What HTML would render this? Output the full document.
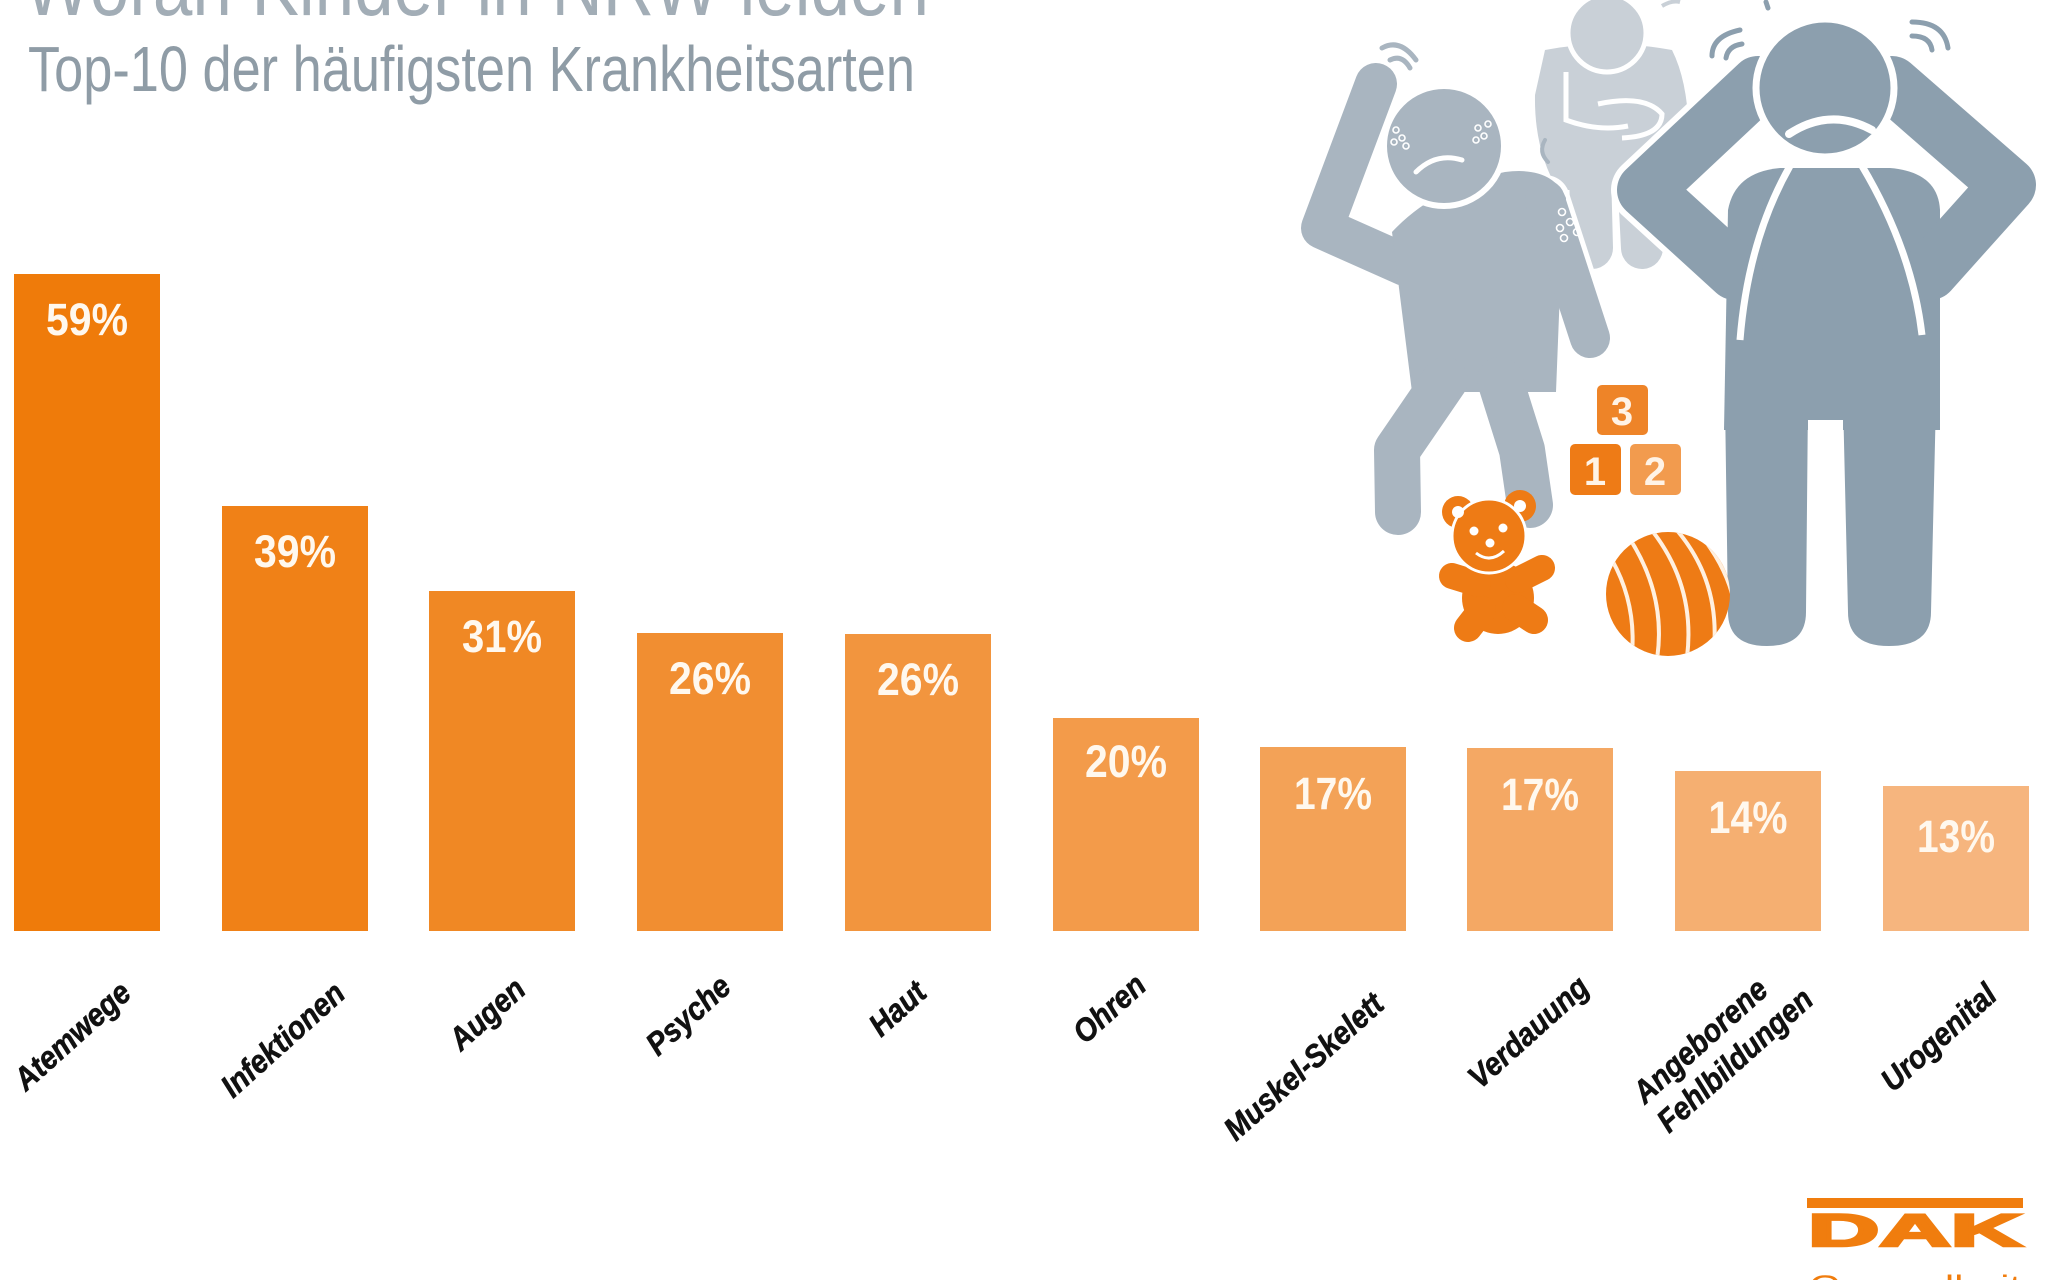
<!DOCTYPE html>
<html>
<head>
<meta charset="utf-8">
<style>
  html,body{margin:0;padding:0;background:#ffffff;}
  body{width:2048px;height:1280px;overflow:hidden;}
  svg{display:block;}
  .pct{font-family:"Liberation Sans Narrow","Liberation Sans",sans-serif;font-weight:bold;font-size:45px;fill:#FFF8EE;}
  .lab{font-family:"Liberation Sans",sans-serif;font-weight:bold;font-style:italic;font-size:32px;fill:#111111;stroke:#111111;stroke-width:0.6;}
</style>
</head>
<body>
<svg width="2048" height="1280" viewBox="0 0 2048 1280" xmlns="http://www.w3.org/2000/svg">
  <rect x="0" y="0" width="2048" height="1280" fill="#ffffff"/>

  <!-- Title (cut at top) -->
  <text x="24" y="15" font-family="Liberation Sans, sans-serif" font-size="86" fill="#A2ADB6" textLength="905" lengthAdjust="spacingAndGlyphs">Woran Kinder in NRW leiden</text>
  <text x="28" y="91" font-family="Liberation Sans, sans-serif" font-size="64" fill="#8F9CA6" textLength="887" lengthAdjust="spacingAndGlyphs">Top-10 der häufigsten Krankheitsarten</text>

  <!-- Bars -->
  <rect x="14"   y="274" width="146" height="657" fill="#EF7B0A"/>
  <rect x="222"  y="506" width="146" height="425" fill="#F08117"/>
  <rect x="429"  y="591" width="146" height="340" fill="#F08824"/>
  <rect x="637"  y="633" width="146" height="298" fill="#F18E31"/>
  <rect x="845"  y="634" width="146" height="297" fill="#F2953E"/>
  <rect x="1053" y="718" width="146" height="213" fill="#F39B4A"/>
  <rect x="1260" y="747" width="146" height="184" fill="#F3A257"/>
  <rect x="1467" y="748" width="146" height="183" fill="#F4A864"/>
  <rect x="1675" y="771" width="146" height="160" fill="#F5AF71"/>
  <rect x="1883" y="786" width="146" height="145" fill="#F6B57E"/>

  <!-- Percent labels -->
  <text class="pct" x="87"   y="335" text-anchor="middle" textLength="82" lengthAdjust="spacingAndGlyphs">59%</text>
  <text class="pct" x="295"  y="567" text-anchor="middle" textLength="82" lengthAdjust="spacingAndGlyphs">39%</text>
  <text class="pct" x="502"  y="652" text-anchor="middle" textLength="80" lengthAdjust="spacingAndGlyphs">31%</text>
  <text class="pct" x="710"  y="694" text-anchor="middle" textLength="82" lengthAdjust="spacingAndGlyphs">26%</text>
  <text class="pct" x="918"  y="695" text-anchor="middle" textLength="82" lengthAdjust="spacingAndGlyphs">26%</text>
  <text class="pct" x="1126" y="777" text-anchor="middle" textLength="82" lengthAdjust="spacingAndGlyphs">20%</text>
  <text class="pct" x="1333" y="809" text-anchor="middle" textLength="78" lengthAdjust="spacingAndGlyphs">17%</text>
  <text class="pct" x="1540" y="810" text-anchor="middle" textLength="78" lengthAdjust="spacingAndGlyphs">17%</text>
  <text class="pct" x="1748" y="833" text-anchor="middle" textLength="79" lengthAdjust="spacingAndGlyphs">14%</text>
  <text class="pct" x="1956" y="852" text-anchor="middle" textLength="78" lengthAdjust="spacingAndGlyphs">13%</text>

  <!-- Category labels -->
  <text class="lab" transform="translate(26,1092) rotate(-42) scale(0.9,1)">Atemwege</text>
  <text class="lab" transform="translate(233,1099) rotate(-42) scale(0.9,1)">Infektionen</text>
  <text class="lab" transform="translate(461,1052) rotate(-42) scale(0.9,1)">Augen</text>
  <text class="lab" transform="translate(658,1057) rotate(-42) scale(0.9,1)">Psyche</text>
  <text class="lab" transform="translate(881,1038) rotate(-42) scale(0.9,1)">Haut</text>
  <text class="lab" transform="translate(1085,1045) rotate(-42) scale(0.9,1)">Ohren</text>
  <text class="lab" transform="translate(1236,1142) rotate(-42) scale(0.9,1)">Muskel-Skelett</text>
  <text class="lab" transform="translate(1480,1090) rotate(-42) scale(0.9,1)">Verdauung</text>
  <text class="lab" transform="translate(1645,1105) rotate(-42) scale(0.9,1)">Angeborene</text>
  <text class="lab" transform="translate(1669,1134) rotate(-42) scale(0.9,1)">Fehlbildungen</text>
  <text class="lab" transform="translate(1893,1093) rotate(-42) scale(0.9,1)">Urogenital</text>

  <!-- ===== Illustration ===== -->
  <!-- Middle (back) figure -->
  <g fill="#C9D0D7" stroke="#C9D0D7">
    <path d="M1545,50 Q1608,38 1672,50 Q1692,90 1688,160 L1664,190 L1558,190 Q1534,150 1535,95 Z" stroke="none"/>
    <line x1="1590" y1="170" x2="1592" y2="248" stroke-width="42" stroke-linecap="round"/>
    <line x1="1638" y1="170" x2="1642" y2="248" stroke-width="42" stroke-linecap="round"/>
  </g>
  <line x1="1615" y1="185" x2="1616" y2="268" stroke="#ffffff" stroke-width="5"/>
  <path d="M1566,72 L1566,120 Q1598,132 1628,126" fill="none" stroke="#ffffff" stroke-width="5"/>
  <path d="M1598,104 Q1645,94 1662,114 Q1662,136 1622,138" fill="none" stroke="#ffffff" stroke-width="5"/>
  <path d="M1548,135 Q1540,147 1550,160" fill="none" stroke="#C9D0D7" stroke-width="4"/>
  <circle cx="1607" cy="33" r="39" fill="#C9D0D7" stroke="#ffffff" stroke-width="5"/>
  <path d="M1662,6 Q1672,0 1680,2" fill="none" stroke="#C9D0D7" stroke-width="4"/>

  <!-- Left figure -->
  <g fill="none" stroke="#ffffff" stroke-linecap="round" stroke-linejoin="round">
    <polyline points="1376,84 1322,228 1405,265" stroke-width="52"/>
    <line x1="1545" y1="200" x2="1590" y2="338" stroke-width="50"/>
    <polyline points="1445,380 1397,450 1398,512" stroke-width="56"/>
    <polyline points="1500,380 1522,450 1530,505" stroke-width="56"/>
  </g>
  <g fill="#A9B5C0" stroke="#A9B5C0" stroke-linecap="round" stroke-linejoin="round">
    <polyline points="1376,84 1322,228 1405,265" fill="none" stroke-width="42"/>
    <path d="M1392,232 Q1435,186 1505,172 Q1552,166 1566,198 L1560,290 L1556,392 L1412,392 Z" stroke="none"/>
    <line x1="1545" y1="200" x2="1590" y2="338" stroke-width="40"/>
    <polyline points="1445,380 1397,450 1398,512" fill="none" stroke-width="46"/>
    <polyline points="1500,380 1522,450 1530,505" fill="none" stroke-width="46"/>
  </g>
  <circle cx="1444" cy="146" r="60" fill="#A9B5C0" stroke="#ffffff" stroke-width="6"/>
  <path d="M1416,172 Q1436,152 1462,160" fill="none" stroke="#ffffff" stroke-width="5" stroke-linecap="round"/>
  <g fill="none" stroke="#ffffff" stroke-width="1.6">
    <circle cx="1396" cy="130" r="3"/><circle cx="1402" cy="138" r="3"/><circle cx="1394" cy="142" r="3"/><circle cx="1406" cy="146" r="3"/>
    <circle cx="1478" cy="128" r="3"/><circle cx="1484" cy="136" r="3"/><circle cx="1476" cy="140" r="3"/><circle cx="1488" cy="124" r="3"/>
    <circle cx="1562" cy="212" r="3.5"/><circle cx="1570" cy="222" r="3.5"/><circle cx="1560" cy="228" r="3.5"/><circle cx="1577" cy="232" r="3.5"/><circle cx="1564" cy="238" r="3.5"/>
  </g>
  <path d="M1382,48 Q1400,38 1416,60" fill="none" stroke="#A9B5C0" stroke-width="5" stroke-linecap="round"/>
  <path d="M1390,60 Q1402,54 1410,68" fill="none" stroke="#A9B5C0" stroke-width="5" stroke-linecap="round"/>
  <path d="M1545,140 Q1538,152 1548,162" fill="none" stroke="#A9B5C0" stroke-width="4" stroke-linecap="round"/>

  <!-- Right big figure -->
  <g fill="none" stroke="#ffffff" stroke-linecap="round" stroke-linejoin="round">
    <polyline points="1758,84 1645,190 1735,272" stroke-width="68"/>
    <polyline points="1892,84 2008,185 1930,272" stroke-width="68"/>
  </g>
  <g fill="#8C9FAE" stroke="#8C9FAE" stroke-linecap="round" stroke-linejoin="round">
    <path d="M1725,400 L1808,400 L1806,612 Q1806,646 1767,646 Q1728,646 1728,612 Z" stroke="none"/>
    <path d="M1843,400 L1936,400 L1931,612 Q1931,646 1889,646 Q1848,646 1848,612 Z" stroke="none"/>
    <path d="M1728,210 Q1735,172 1780,168 L1890,168 Q1938,172 1940,210 L1940,430 L1724,430 Z" stroke="none"/>
    <polyline points="1758,84 1645,190 1735,272" fill="none" stroke-width="56"/>
    <polyline points="1892,84 2008,185 1930,272" fill="none" stroke-width="56"/>
  </g>
  <rect x="1808" y="420" width="35" height="230" fill="#ffffff"/>
  <path d="M1790,166 Q1748,240 1740,340" fill="none" stroke="#ffffff" stroke-width="7"/>
  <path d="M1862,166 Q1912,250 1922,335" fill="none" stroke="#ffffff" stroke-width="7"/>
  <circle cx="1825" cy="88" r="69" fill="#8C9FAE" stroke="#ffffff" stroke-width="7"/>
  <path d="M1789,134 Q1830,107 1872,130" fill="none" stroke="#ffffff" stroke-width="8" stroke-linecap="round"/>
  <g fill="none" stroke="#8C9FAE" stroke-width="5" stroke-linecap="round">
    <path d="M1712,56 Q1712,36 1740,30"/>
    <path d="M1726,58 Q1728,46 1742,44"/>
    <path d="M1912,22 Q1944,22 1948,48"/>
    <path d="M1912,36 Q1930,36 1932,50"/>
    <path d="M1766,2 L1768,8"/>
  </g>

  <!-- Blocks -->
  <rect x="1597" y="385" width="51" height="50" rx="5" fill="#EE8428"/>
  <rect x="1570" y="444" width="51" height="51" rx="5" fill="#EE7B16"/>
  <rect x="1630" y="444" width="51" height="51" rx="5" fill="#F29B4E"/>
  <text x="1622" y="425" text-anchor="middle" font-family="Liberation Sans, sans-serif" font-weight="bold" font-size="40" fill="#FFF3E6">3</text>
  <text x="1595" y="485" text-anchor="middle" font-family="Liberation Sans, sans-serif" font-weight="bold" font-size="40" fill="#FFF3E6">1</text>
  <text x="1655" y="485" text-anchor="middle" font-family="Liberation Sans, sans-serif" font-weight="bold" font-size="40" fill="#FFF3E6">2</text>

  <!-- Teddy -->
  <g fill="#EE7B15">
    <circle cx="1458" cy="512" r="16"/>
    <circle cx="1520" cy="506" r="16"/>
    <ellipse cx="1498" cy="598" rx="36" ry="36"/>
    <line x1="1452" y1="576" x2="1478" y2="584" stroke="#EE7B15" stroke-width="26" stroke-linecap="round"/>
    <line x1="1542" y1="568" x2="1518" y2="580" stroke="#EE7B15" stroke-width="26" stroke-linecap="round"/>
    <line x1="1482" y1="610" x2="1468" y2="628" stroke="#EE7B15" stroke-width="28" stroke-linecap="round"/>
    <line x1="1516" y1="608" x2="1534" y2="620" stroke="#EE7B15" stroke-width="28" stroke-linecap="round"/>
    <circle cx="1489" cy="536" r="37" stroke="#ffffff" stroke-width="3"/>
  </g>
  <circle cx="1458" cy="512" r="6" fill="#ffffff"/>
  <circle cx="1520" cy="506" r="6" fill="#ffffff"/>
  <circle cx="1474" cy="531" r="4.5" fill="#ffffff"/>
  <circle cx="1503" cy="528" r="4.5" fill="#ffffff"/>
  <circle cx="1490" cy="543" r="4.5" fill="#ffffff"/>
  <path d="M1476,553 Q1490,564 1504,551" fill="none" stroke="#ffffff" stroke-width="3"/>

  <!-- Ball -->
  <defs>
    <clipPath id="ballclip"><circle cx="1668" cy="594" r="62"/></clipPath>
  </defs>
  <circle cx="1668" cy="594" r="62" fill="#EE7B15"/>
  <g clip-path="url(#ballclip)" fill="none" stroke="#FFF0E0" stroke-width="4">
    <path d="M1612,560 Q1640,610 1630,670"/>
    <path d="M1628,536 Q1670,600 1655,670"/>
    <path d="M1650,528 Q1700,590 1685,670"/>
    <path d="M1675,528 Q1725,585 1712,665"/>
    <path d="M1700,534 Q1745,590 1735,650"/>
  </g>

  <!-- DAK logo -->
  <rect x="1807" y="1198" width="216" height="10" fill="#F07D0E"/>
  <text x="1808" y="1246" font-family="Liberation Sans, sans-serif" font-weight="bold" font-size="45" fill="#F07D0E" stroke="#F07D0E" stroke-width="2.5" textLength="214" lengthAdjust="spacingAndGlyphs">DAK</text>
  <text x="1809" y="1296" font-family="Liberation Sans, sans-serif" font-size="30" fill="#F07D0E" textLength="212" lengthAdjust="spacingAndGlyphs">Gesundheit</text>
</svg>
</body>
</html>
